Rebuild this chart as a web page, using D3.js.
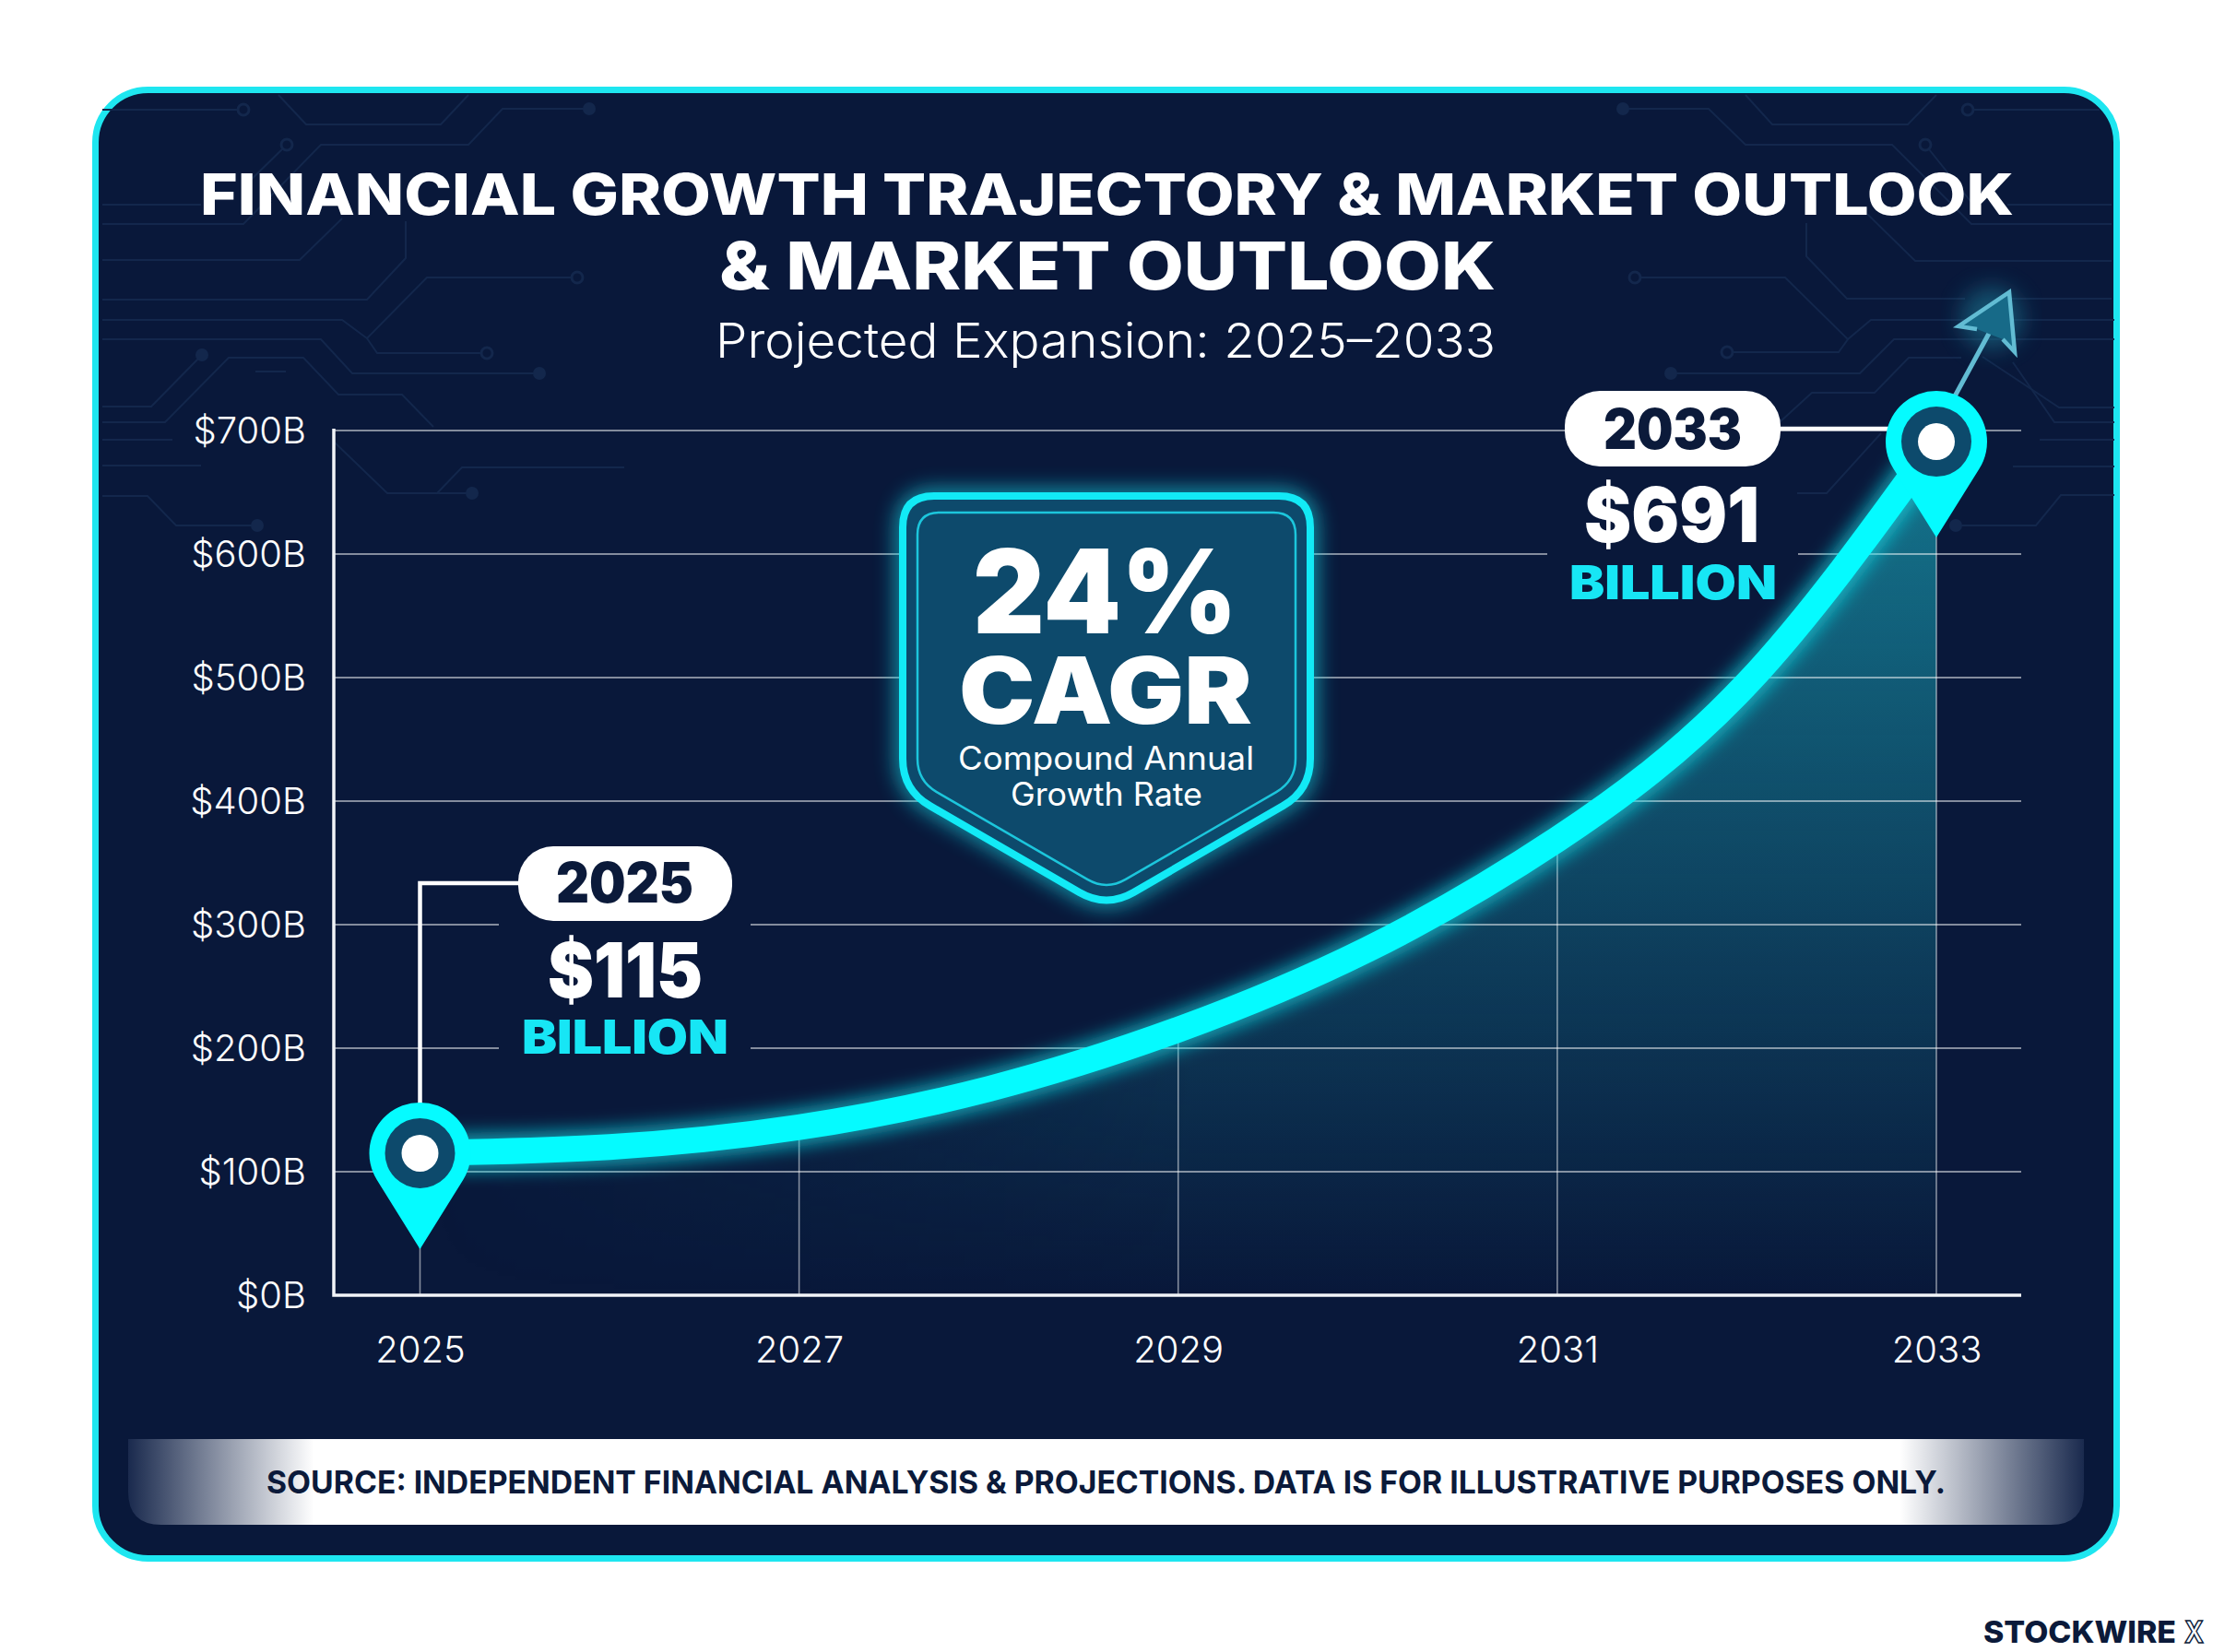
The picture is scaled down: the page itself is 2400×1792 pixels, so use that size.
<!DOCTYPE html>
<html>
<head>
<meta charset="utf-8">
<title>Financial Growth Trajectory</title>
<script src="https://cdn.jsdelivr.net/npm/d3@7/dist/d3.min.js"></script>
<style>
  html, body { margin: 0; padding: 0; background: #ffffff; }
  svg { display: block; }
  text { font-family: Inter, "Noto Sans", sans-serif; }
</style>
</head>
<body>
<svg id="chart" width="2400" height="1792"></svg>
<script>
// Market size in $ billions, one reading per year
const years = [2025, 2026, 2027, 2028, 2029, 2030, 2031, 2032, 2033];
const marketSize = [115, 120, 136, 167, 215, 280, 369, 495, 691];
const xTickYears = [2025, 2027, 2029, 2031, 2033];
const yTickValues = [0, 100, 200, 300, 400, 500, 600, 700];
const titleLines = ["FINANCIAL GROWTH TRAJECTORY & MARKET OUTLOOK", "& MARKET OUTLOOK"];
const subtitle = "Projected Expansion: 2025–2033";
const sourceNote = "SOURCE: INDEPENDENT FINANCIAL ANALYSIS & PROJECTIONS. DATA IS FOR ILLUSTRATIVE PURPOSES ONLY.";

const NAVY = "#09183a", CYAN = "#05fbff", BORDER = "#1ee6f0", TEAL = "#0d4a6c", INK = "#0b1a3a";
const plotLeft = 362, plotRight = 2192;

const svg = d3.select("#chart");
const defs = svg.append("defs");

const x = d3.scaleLinear().domain([2025, 2033]).range([455.5, 2100]);
const y = d3.scaleLinear().domain([0, 700]).range([1405, 467]);
const series = years.map((year, i) => ({ year, value: marketSize[i] }));
const valueOf = year => series.find(d => d.year === year).value;

// Soft glow filters
const addBlur = (id, dev) => defs.append("filter").attr("id", id)
  .attr("x", "-30%").attr("y", "-30%").attr("width", "160%").attr("height", "160%")
  .append("feGaussianBlur").attr("stdDeviation", dev);
addBlur("glowCurve", 9);
addBlur("glowBadge", 11);
addBlur("glowArrow", 12);

// Area fade under the curve: strongest at the top, gone by the baseline
const areaFade = defs.append("linearGradient").attr("id", "areaFade")
  .attr("gradientUnits", "userSpaceOnUse").attr("x1", 0).attr("x2", 0).attr("y1", 500).attr("y2", 1405);
areaFade.append("stop").attr("offset", 0).attr("stop-color", "#1892a7").attr("stop-opacity", 0.75);
areaFade.append("stop").attr("offset", 1).attr("stop-color", "#1892a7").attr("stop-opacity", 0);

// The same area also dissolves toward the early years
const areaSide = defs.append("linearGradient").attr("id", "areaSide")
  .attr("gradientUnits", "userSpaceOnUse").attr("x1", 455).attr("x2", 1300).attr("y1", 0).attr("y2", 0);
areaSide.append("stop").attr("offset", 0).attr("stop-color", "#000");
areaSide.append("stop").attr("offset", 1).attr("stop-color", "#fff");
const areaMask = defs.append("mask").attr("id", "areaMask").attr("maskUnits", "userSpaceOnUse")
  .attr("x", 0).attr("y", 0).attr("width", 2400).attr("height", 1792);
areaMask.append("rect").attr("width", 2400).attr("height", 1792).attr("fill", "url(#areaSide)");

// Footer band fades to navy at both ends
const bandFade = defs.append("linearGradient").attr("id", "bandFade")
  .attr("gradientUnits", "userSpaceOnUse").attr("x1", 139).attr("x2", 2260).attr("y1", 0).attr("y2", 0);
[[0, "#1a2a4e"], [0.095, "#ffffff"], [0.906, "#ffffff"], [1, "#1a2a4e"]].forEach(([o, c]) =>
  bandFade.append("stop").attr("offset", o).attr("stop-color", c));

// Card
svg.append("rect").attr("x", 103.5).attr("y", 97.5).attr("width", 2192).attr("height", 1593)
  .attr("rx", 57).attr("fill", NAVY).attr("stroke", BORDER).attr("stroke-width", 7);

// Circuit-board texture in the upper corners
const tracePaths = [
  [[111,119],[264,119]], [[302,103],[332,135],[478,135],[508,103]],
  [[639,118],[545,118],[508,157],[348,157],[264,243],[111,243]], [[311,157],[264,203]],
  [[111,222],[218,222]], [[371,237],[325,282],[111,282]],
  [[440,240],[440,280],[398,325],[111,325]], [[626,301],[463,301],[398,367],[371,347],[111,347]],
  [[398,367],[409,383],[528,383]], [[111,368],[348,368],[382,405],[585,405]],
  [[219,385],[164,441],[111,441]], [[111,458],[179,458],[248,388],[329,388],[367,428],[436,428],[470,463]],
  [[277,403],[310,403]], [[111,477],[187,477]], [[111,505],[218,505]],
  [[363,480],[420,535],[512,535]], [[677,507],[501,507],[474,535]],
  [[111,538],[160,538],[191,570],[279,570]],
  [[1760,118],[1853,118],[1893,157],[2052,157],[2138,243],[2290,243]],
  [[1893,103],[1922,135],[2069,135],[2100,103]], [[2134,119],[2277,119]],
  [[2088,157],[2140,222]], [[2177,222],[2290,222]],
  [[1959,242],[1959,278],[2003,324],[2131,324]], [[2177,324],[2290,324]],
  [[2025,232],[2077,283],[2290,283]], [[1773,301],[1936,301],[2004,368],[1994,382],[1873,382]],
  [[2004,368],[2029,347],[2293,347]], [[1812,405],[2017,405],[2054,368],[2293,368]],
  [[1930,458],[1965,426],[2033,426],[2070,388],[2127,388]],
  [[2150,387],[2233,442],[2293,442]], [[2183,393],[2228,458],[2293,458]],
  [[2212,477],[2293,477]], [[2183,506],[2293,506]],
  [[1949,535],[1981,535],[2040,470]], [[2121,570],[2208,570],[2235,537],[2293,537]]
];
const traceRings = [[264,119],[311,157],[626,301],[528,383],[2134,119],[2088,157],[1773,301],[1873,382]];
const traceDots = [[639,118],[585,405],[219,385],[512,535],[279,570],[1760,118],[1812,405],[2121,570]];
const TRACE = "#13274c";
const traces = svg.append("g").attr("stroke", TRACE).attr("fill", "none").attr("stroke-width", 2);
traces.selectAll("path").data(tracePaths).join("path").attr("d", d3.line());
traces.selectAll("circle.ring").data(traceRings).join("circle").attr("class", "ring")
  .attr("cx", d => d[0]).attr("cy", d => d[1]).attr("r", 6).attr("fill", NAVY).attr("stroke-width", 3);
traces.selectAll("circle.dot").data(traceDots).join("circle").attr("class", "dot")
  .attr("cx", d => d[0]).attr("cy", d => d[1]).attr("r", 7).attr("fill", TRACE).attr("stroke", "none");

// Area under the curve
const curve = d3.curveNatural;
svg.append("g").attr("mask", "url(#areaMask)").append("path").datum(series)
  .attr("d", d3.area().x(d => x(d.year)).y0(y(0)).y1(d => y(d.value)).curve(curve))
  .attr("fill", "url(#areaFade)");

// Gridlines are hidden behind the two value callouts
const gridMask = defs.append("mask").attr("id", "gridMask").attr("maskUnits", "userSpaceOnUse")
  .attr("x", 0).attr("y", 0).attr("width", 2400).attr("height", 1792);
gridMask.append("rect").attr("width", 2400).attr("height", 1792).attr("fill", "#fff");
gridMask.append("rect").attr("x", 541).attr("y", 985).attr("width", 273).attr("height", 170).attr("fill", "#000");
gridMask.append("rect").attr("x", 1678).attr("y", 510).attr("width", 272).attr("height", 180).attr("fill", "#000");

const grid = svg.append("g").attr("stroke", "#ffffff").attr("stroke-opacity", 0.5);
grid.append("g").attr("mask", "url(#gridMask)").selectAll("line")
  .data(yTickValues.filter(v => v > 0)).join("line")
  .attr("x1", plotLeft).attr("x2", plotRight)
  .attr("y1", d => y(d)).attr("y2", d => y(d)).attr("stroke-width", 1.8);
grid.append("g").selectAll("line").data(xTickYears).join("line")
  .attr("x1", d => x(d)).attr("x2", d => x(d))
  .attr("y1", y(0)).attr("y2", d => y(valueOf(d))).attr("stroke-width", 1.6);

// Axes
const tickStyle = g => {
  g.select(".domain").remove();
  g.selectAll("text").attr("fill", "#ffffff").attr("font-size", 40).attr("font-weight", 300)
    .style("font-family", "Inter, sans-serif");
};
svg.append("g").attr("transform", `translate(${plotLeft - 30},0)`)
  .call(d3.axisLeft(y).tickValues(yTickValues).tickFormat(d => `$${d}B`).tickSize(0).tickPadding(0))
  .call(tickStyle)
  .call(g => g.selectAll("text").attr("dy", 13));
svg.append("g").attr("transform", `translate(0,${y(0)})`)
  .call(d3.axisBottom(x).tickValues(xTickYears).tickFormat(d3.format("d")).tickSize(0).tickPadding(0))
  .call(tickStyle)
  .call(g => g.selectAll("text").attr("y", 73).attr("dy", 0));

svg.append("path").attr("d", d3.line()([[plotLeft, y(700) - 2], [plotLeft, y(0)], [plotRight, y(0)]]))
  .attr("fill", "none").attr("stroke", "#f2f4f8").attr("stroke-width", 3.5);

// Growth curve with neon halo
const lineGen = d3.line().x(d => x(d.year)).y(d => y(d.value)).curve(curve);
svg.append("path").datum(series).attr("d", lineGen).attr("fill", "none")
  .attr("stroke", "#12dbe6").attr("stroke-width", 42).attr("stroke-opacity", 0.62)
  .attr("filter", "url(#glowCurve)");
svg.append("path").datum(series).attr("d", lineGen).attr("fill", "none")
  .attr("stroke", CYAN).attr("stroke-width", 28);

// Rising arrow beyond the last point
const ARROW = "#62bcd3";
svg.append("circle").attr("cx", 2160).attr("cy", 345).attr("r", 34)
  .attr("fill", "#1b7f9a").attr("opacity", 0.55).attr("filter", "url(#glowArrow)");
svg.append("line").attr("x1", 2115).attr("y1", 439).attr("x2", 2159).attr("y2", 358)
  .attr("stroke", ARROW).attr("stroke-width", 5);
svg.append("path").attr("d", "M2179,317L2124,354L2144,357L2172,368L2185,382Z").attr("fill", "#176a88");
svg.append("path").attr("d", "M2144,357L2124,354L2179,317L2185,382L2172,368")
  .attr("fill", "none").attr("stroke", ARROW).attr("stroke-width", 4.5).attr("stroke-linejoin", "miter");

// CAGR shield
function roundedPoly(points, r) {
  const n = points.length;
  const path = d3.path();
  points.forEach((p, i) => {
    const prev = points[(i + n - 1) % n], next = points[(i + 1) % n];
    const toward = (a, b) => {
      const d = Math.hypot(b[0] - a[0], b[1] - a[1]);
      return [a[0] + (b[0] - a[0]) * r / d, a[1] + (b[1] - a[1]) * r / d];
    };
    const a = toward(p, prev), b = toward(p, next);
    if (i === 0) path.moveTo(a[0], a[1]); else path.lineTo(a[0], a[1]);
    path.quadraticCurveTo(p[0], p[1], b[0], b[1]);
  });
  path.closePath();
  return path.toString();
}
const shieldOuter = roundedPoly([[979,538],[1421,538],[1421,857],[1200,985],[979,857]], 34);
const shieldInner = roundedPoly([[995,556],[1405,556],[1405,847],[1200,966],[995,847]], 24);
svg.append("path").attr("d", shieldOuter).attr("fill", "#1ac8dc").attr("stroke", "#12e6f2")
  .attr("stroke-width", 16).attr("opacity", 0.6).attr("filter", "url(#glowBadge)");
svg.append("path").attr("d", shieldOuter).attr("fill", TEAL).attr("stroke", "#12eaf6").attr("stroke-width", 8);
svg.append("path").attr("d", shieldInner).attr("fill", TEAL).attr("stroke", "#1cc6dc").attr("stroke-width", 2.5);

// Text whose start and width are pinned to a measured span
function fitText(parent, str, x0, x1, baseline, size, weight, fill) {
  return parent.append("text").text(str).attr("x", x0).attr("y", baseline)
    .attr("font-size", size).attr("font-weight", weight).attr("fill", fill)
    .attr("textLength", x1 - x0).attr("lengthAdjust", "spacingAndGlyphs");
}
const labels = svg.append("g");
fitText(labels, "24%", 1055, 1342, 687, 126, 900, "#ffffff");
fitText(labels, "CAGR", 1040, 1358, 785, 100, 900, "#ffffff");
fitText(labels, "Compound Annual", 1039, 1360, 835, 35, 400, "#ffffff");
fitText(labels, "Growth Rate", 1096, 1304, 874, 35, 400, "#ffffff");

// Headline
fitText(labels, titleLines[0], 217, 2184, 233, 62, 800, "#ffffff");
fitText(labels, titleLines[1], 780, 1622, 314, 72, 800, "#ffffff");
fitText(labels, subtitle, 776, 1622, 388, 52, 300, "#ffffff");

// Connectors from callout pills to the pins
const connectors = svg.append("g").attr("fill", "none").attr("stroke", "#ffffff").attr("stroke-width", 4.5);
connectors.append("path").attr("d", d3.line()([[x(2025), y(valueOf(2025)) - 50], [x(2025), 958], [570, 958]]));
connectors.append("path").attr("d", d3.line()([[1925, 465], [x(2033) - 40, 465]]));

// Map-pin markers at both ends
function pinPath(r, tip) {
  const a = Math.acos(r / tip);
  const p = d3.path();
  p.moveTo(0, tip);
  p.lineTo(Math.sin(a) * r, Math.cos(a) * r);
  p.arc(0, 0, r, Math.PI / 2 - a, Math.PI / 2 + a, true);
  p.closePath();
  return p.toString();
}
const pinYears = [2025, 2033];
const pins = svg.append("g").selectAll("g").data(pinYears).join("g")
  .attr("transform", d => `translate(${x(d)},${y(valueOf(d))})`);
pins.append("path").attr("d", pinPath(55, 104)).attr("fill", CYAN);
pins.append("circle").attr("r", 38).attr("fill", TEAL);
pins.append("circle").attr("r", 20).attr("fill", "#ffffff");

// Value callouts
const callouts = [
  { year: 2025, pill: [562, 918, 232, 81], yr: [603, 752, 979], val: [594, 762, 1082], unit: [566, 790, 1143] },
  { year: 2033, pill: [1697, 424, 234, 82], yr: [1739, 1889, 487], val: [1718, 1908, 588], unit: [1702, 1927, 650] }
];
callouts.forEach(c => {
  const g = svg.append("g");
  g.append("rect").attr("x", c.pill[0]).attr("y", c.pill[1]).attr("width", c.pill[2]).attr("height", c.pill[3])
    .attr("rx", 38).attr("fill", "#ffffff");
  fitText(g, String(c.year), c.yr[0], c.yr[1], c.yr[2], 60, 900, INK);
  fitText(g, `$${valueOf(c.year)}`, c.val[0], c.val[1], c.val[2], 82, 900, "#ffffff");
  fitText(g, "BILLION", c.unit[0], c.unit[1], c.unit[2], 51, 900, "#17e6f5");
});

// Source band: square on top, rounded below
const bx0 = 139, bx1 = 2260, by0 = 1561, by1 = 1654, br = 36;
const band = d3.path();
band.moveTo(bx0, by0); band.lineTo(bx1, by0); band.lineTo(bx1, by1 - br);
band.quadraticCurveTo(bx1, by1, bx1 - br, by1); band.lineTo(bx0 + br, by1);
band.quadraticCurveTo(bx0, by1, bx0, by1 - br); band.closePath();
svg.append("path").attr("d", band.toString()).attr("fill", "url(#bandFade)");
fitText(labels.raise(), sourceNote, 289, 2110, 1620, 34, 700, INK);

// Publisher mark
fitText(labels, "STOCKWIRE", 2151, 2360, 1782, 33, 800, INK);
fitText(labels, "X", 2369, 2390, 1782, 33, 700, "#ffffff")
  .attr("stroke", INK).attr("stroke-width", 1.5);
</script>
</body>
</html>
